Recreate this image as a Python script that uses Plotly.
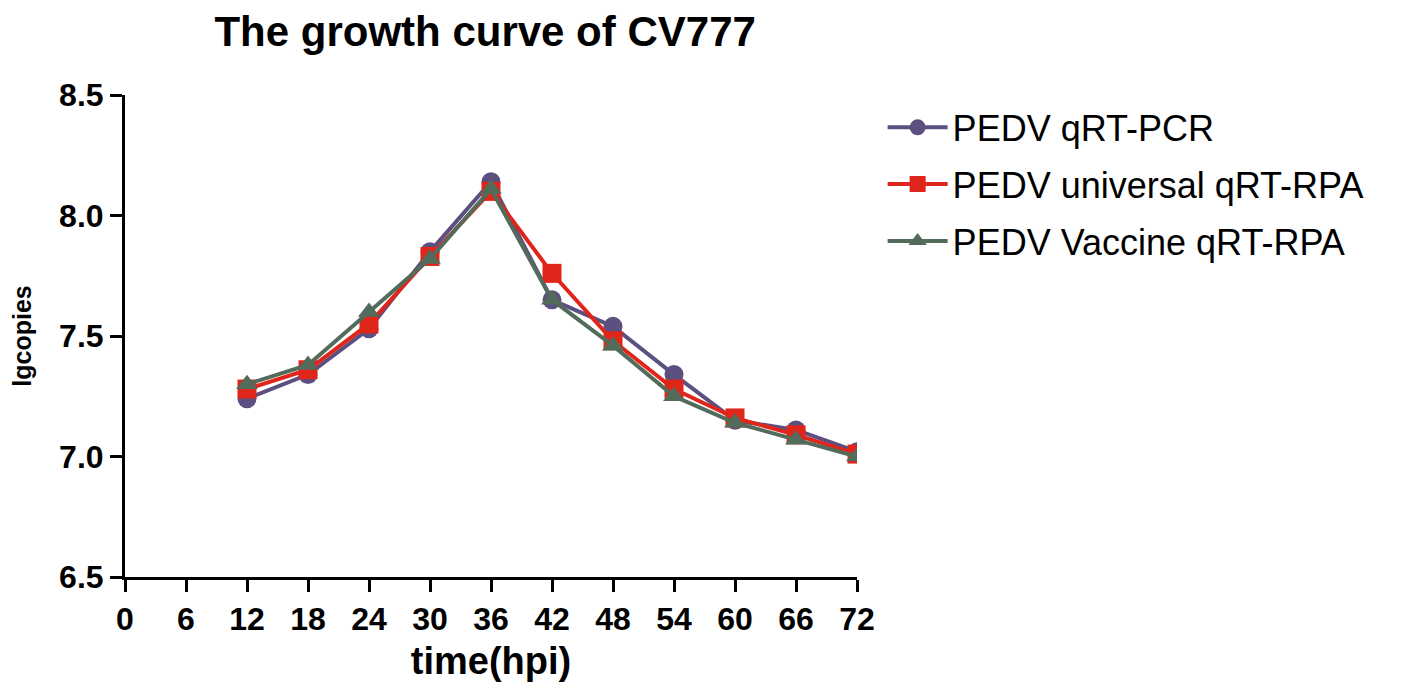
import plotly.graph_objects as go

hpi = [12, 18, 24, 30, 36, 42, 48, 54, 60, 66, 72]
qrt_pcr = [7.24, 7.34, 7.53, 7.85, 8.14, 7.65, 7.54, 7.34, 7.15, 7.11, 7.02]
universal_rpa = [7.28, 7.36, 7.55, 7.83, 8.10, 7.76, 7.48, 7.28, 7.16, 7.09, 7.01]
vaccine_rpa = [7.30, 7.38, 7.60, 7.82, 8.11, 7.65, 7.46, 7.25, 7.14, 7.07, 7.00]

x_ticks = [0, 6, 12, 18, 24, 30, 36, 42, 48, 54, 60, 66, 72]
y_ticks = [6.5, 7.0, 7.5, 8.0, 8.5]

FONT = "Arial, Liberation Sans, sans-serif"

series = [
    ("PEDV qRT-PCR", qrt_pcr, "#5b5080", "circle"),
    ("PEDV universal qRT-RPA", universal_rpa, "#e0261a", "square"),
    ("PEDV Vaccine qRT-RPA", vaccine_rpa, "#536b5a", "triangle-up"),
]

fig = go.Figure()
for i, (name, vals, color, sym) in enumerate(series):
    fig.add_trace(go.Scatter(
        x=hpi, y=vals, name=name, mode="lines+markers",
        line=dict(color=color, width=4),
        marker=dict(symbol=sym, size=19, color=color),
        legendgroup=str(i),
    ))

axis_common = dict(
    showline=True, linecolor="black", linewidth=3,
    ticks="outside", ticklen=12, tickwidth=3, tickcolor="black",
    showgrid=False, zeroline=False,
    tickfont=dict(family=FONT, size=32, color="black", weight="bold"),
)

fig.update_xaxes(
    range=[0, 72], tickvals=x_ticks, **axis_common, automargin=False,
    title=dict(text="time(hpi)", font=dict(family=FONT, size=38, color="black", weight="bold"), standoff=11),
)
fig.update_yaxes(
    range=[6.5, 8.5], tickvals=y_ticks, tickformat=".1f", **axis_common, automargin=False,
    title=dict(text="lgcopies", font=dict(family=FONT, size=25, color="black", weight="bold"), standoff=26),
)

# page body adds an 8px offset, so the figure is sized/margined to compensate
fig.update_layout(
    width=1402, height=675,
    plot_bgcolor="white", paper_bgcolor="white",
    margin=dict(l=117, r=553, t=87, b=106, autoexpand=False),
    title=dict(text="The growth curve of CV777", x=0.492, xref="paper", xanchor="center",
               y=0.988, yanchor="top",
               font=dict(family=FONT, size=42, color="black", weight="bold")),
    legend=dict(x=1.035, y=0.995, xanchor="left", yanchor="top",
                font=dict(family=FONT, size=36, color="black"),
                tracegroupgap=7, itemwidth=60),
    showlegend=True,
)

fig.write_html("out.html")
